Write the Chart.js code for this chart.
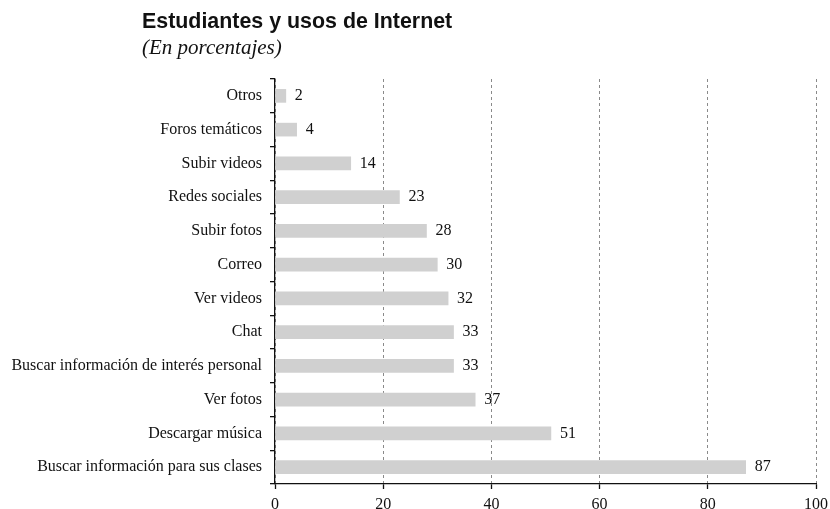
<!DOCTYPE html>
<html lang="es">
<head>
  <meta charset="UTF-8" />
  <title>Estudiantes y usos de Internet</title>
  <script src="https://cdn.jsdelivr.net/npm/chart.js"></script>
  <style>
    html, body {
      margin: 0;
      padding: 0;
      width: 830px;
      height: 509px;
      overflow: hidden;
      background: #fff;
    }
    .wrap {
      position: relative;
      width: 830px;
      height: 521px;
    }
    .title {
      position: absolute;
      left: 142px;
      top: 11px;
      line-height: 21px;
      font-family: 'Liberation Sans', Arial, sans-serif;
      font-weight: bold;
      font-size: 21.4px;
      color: #111;
    }
    .subtitle {
      position: absolute;
      left: 142px;
      top: 37px;
      line-height: 21px;
      font-family: 'Liberation Serif', 'Times New Roman', serif;
      font-style: italic;
      font-size: 21px;
      color: #111;
    }
  </style>
</head>
<body>

<div class="wrap">
  <div class="title">Estudiantes y usos de Internet</div>
  <div class="subtitle">(En porcentajes)</div>
  <canvas id="myChart" width="830" height="521"></canvas>
</div>

<script>
  const categories = [
    'Otros',
    'Foros temáticos',
    'Subir videos',
    'Redes sociales',
    'Subir fotos',
    'Correo',
    'Ver videos',
    'Chat',
    'Buscar información de interés personal',
    'Ver fotos',
    'Descargar música',
    'Buscar información para sus clases'
  ];
  const values = [2, 4, 14, 23, 28, 30, 32, 33, 33, 37, 51, 87];
  const xTicks = [0, 20, 40, 60, 80, 100];

  const serif = "'Liberation Serif', 'Times New Roman', serif";

  // numbers at the end of each bar
  const valueLabels = {
    id: 'valueLabels',
    afterDatasetsDraw(chart) {
      const ctx = chart.ctx;
      const meta = chart.getDatasetMeta(0);
      ctx.save();
      ctx.font = '16px ' + serif;
      ctx.fillStyle = '#111';
      ctx.textAlign = 'left';
      ctx.textBaseline = 'middle';
      meta.data.forEach((bar, i) => {
        ctx.fillText(values[i], bar.x + 9, bar.y);
      });
      ctx.restore();
    }
  };

  const ctx = document.getElementById('myChart').getContext('2d');
  const chart = new Chart(ctx, {
    type: 'bar',
    data: {
      labels: categories,
      datasets: [{
        data: values,
        backgroundColor: '#d0d0d0',
        borderWidth: 0,
        barThickness: 13
      }]
    },
    options: {
      indexAxis: 'y',
      responsive: false,
      animation: false,
      layout: {
        autoPadding: false,
        padding: { top: 79, right: 14, left: 0, bottom: 0 }
      },
      plugins: {
        legend: { display: false },
        tooltip: { enabled: false }
      },
      scales: {
        x: {
          min: 0,
          max: 100,
          afterBuildTicks: axis => {
            axis.ticks = xTicks.map(v => ({ value: v }));
          },
          afterFit: axis => {
            axis.height = 37;
            axis.paddingLeft = 0;
            axis.paddingRight = 0;
          },
          border: { display: true, color: '#111', width: 1.3, dash: [3, 3] },
          grid: {
            color: '#8a8a8a',
            lineWidth: 1,
            tickColor: '#111',
            tickLength: 5,
            tickWidth: 1.3,
            tickBorderDash: []
          },
          ticks: {
            color: '#111',
            padding: 6,
            maxRotation: 0,
            font: { family: serif, size: 16 }
          }
        },
        y: {
          afterFit: axis => { axis.width = 275; },
          border: { display: true, color: '#111', width: 1.3 },
          grid: {
            offset: true,
            drawOnChartArea: false,
            color: '#111',
            tickLength: 5,
            lineWidth: 1.3
          },
          ticks: {
            color: '#111',
            padding: 8,
            font: { family: serif, size: 16 }
          }
        }
      }
    },
    plugins: [valueLabels]
  });
</script>

</body>
</html>
